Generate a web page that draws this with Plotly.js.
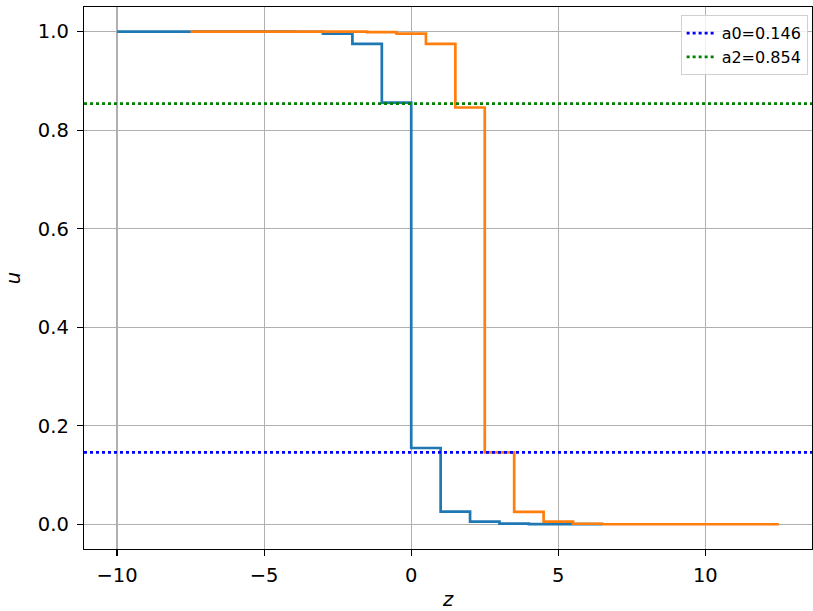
<!DOCTYPE html>
<html>
<head>
<meta charset="utf-8">
<script src="https://cdn.plot.ly/plotly-3.0.1.min.js"></script>
<style>html,body{margin:0;padding:0;background:#fff}#chart{width:813px;height:611px}</style>
</head>
<body>
<div id="chart"></div>
<script>
// Blue step series (u vs z), value holds from each z until the next
const blueZ = [-10, -4, -3, -2, -1, 0, 1, 2, 3, 4, 6.5];
const blueU = [1.0, 0.9998, 0.996, 0.975, 0.856, 0.155, 0.026, 0.0055, 0.0014, 0.0003, 0.0003];
// Orange step series
const orangeZ = [-7.5, -4, -1.5, -0.5, 0.5, 1.5, 2.5, 3.5, 4.5, 5.5, 6.5, 12.5];
const orangeU = [1.0, 0.9999, 0.999, 0.996, 0.975, 0.846, 0.146, 0.0255, 0.0055, 0.0012, 0.0002, 0.0002];
// Horizontal reference levels
const refNames = ["a0=0.146", "a2=0.854"];
const refValues = [0.146, 0.854];
const refColors = ["#0000ff", "#008000"];
const xRange = [-11.125, 13.625];
const yRange = [-0.05, 1.05];
const xTicks = [-10, -5, 0, 5, 10];
const xTickLabels = ["\u221210", "\u22125", "0", "5", "10"];
const yTicks = [0.0, 0.2, 0.4, 0.6, 0.8, 1.0];
const yTickLabels = ["0.0", "0.2", "0.4", "0.6", "0.8", "1.0"];

const traces = [
  {x: blueZ, y: blueU, mode: 'lines', line: {shape: 'hv', color: '#1f77b4', width: 2.7}, showlegend: false, hoverinfo: 'skip'},
  {x: orangeZ, y: orangeU, mode: 'lines', line: {shape: 'hv', color: '#ff7f0e', width: 2.7}, showlegend: false, hoverinfo: 'skip'}
];
refValues.forEach((v, i) => {
  traces.push({x: xRange, y: [v, v], mode: 'lines', name: refNames[i],
    line: {color: refColors[i], width: 2.7, dash: 'dot'}});
});

const axisCommon = {
  showgrid: true, gridcolor: '#b0b0b0', gridwidth: 1.3,
  zeroline: false, showline: true, linecolor: '#000', linewidth: 1.3, mirror: true,
  ticks: 'outside', ticklen: 6, tickwidth: 1.3, tickcolor: '#000',
  tickfont: {family: 'DejaVu Sans', size: 19.5, color: '#000'}
};

const layout = {
  width: 813, height: 611,
  margin: {l: 84, r: 1, t: 7, b: 62},
  paper_bgcolor: '#fff', plot_bgcolor: '#fff',
  showlegend: true,
  legend: {x: 0.994, y: 0.985, xanchor: 'right', yanchor: 'top',
    bgcolor: 'rgba(255,255,255,0.8)', bordercolor: '#d0d0d0', borderwidth: 1,
    font: {family: 'DejaVu Sans', size: 16, color: '#000'}, tracegroupgap: 0},
  xaxis: Object.assign({}, axisCommon, {range: xRange, tickvals: xTicks, ticktext: xTickLabels,
    ticklabelstandoff: 2,
    title: {text: '<i>z</i>', font: {family: 'DejaVu Sans', size: 19.5, color: '#000'}, standoff: 10}}),
  yaxis: Object.assign({}, axisCommon, {range: yRange, tickvals: yTicks, ticktext: yTickLabels,
    ticklabelstandoff: 4,
    title: {text: '<i>u</i>', font: {family: 'DejaVu Sans', size: 19.5, color: '#000'}, standoff: 12}})
};

Plotly.newPlot('chart', traces, layout, {staticPlot: true});
</script>
</body>
</html>
